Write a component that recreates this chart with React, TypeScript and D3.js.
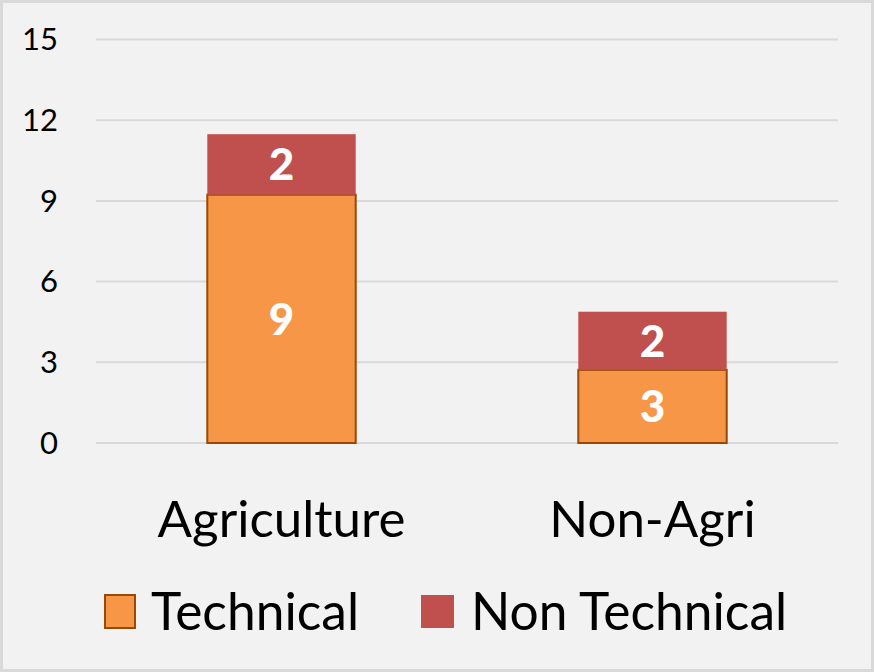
import React from "react";
import * as d3 from "d3";

const categories = ["Agriculture", "Non-Agri"];
const technical = [9.23, 2.72];
const nonTechnical = [2.25, 2.16];
const yTicks = [0, 3, 6, 9, 12, 15];
const seriesNames = ["Technical", "Non Technical"];

const W = 874;
const H = 672;
const FONT = "Lato, 'Open Sans', sans-serif";

export default function App() {
  const y = d3.scaleLinear().domain([0, 15]).range([443, 39.5]);
  const x = d3
    .scaleBand<string>()
    .domain(categories)
    .range([96, 838])
    .paddingInner(0.6)
    .paddingOuter(0.3);
  const bw = x.bandwidth();
  const fmt = d3.format(".0f");

  return (
    <svg
      width={W}
      height={H}
      style={{ position: "absolute", left: 0, top: 0 }}
      fontFamily={FONT}
    >
      <rect x={1.5} y={1.5} width={W - 3} height={H - 3} fill="#f2f2f2" stroke="#d9d9d9" strokeWidth={3} />
      {yTicks.map((t) => (
        <g key={t}>
          <line x1={96} x2={838} y1={y(t)} y2={y(t)} stroke="#d9d9d9" strokeWidth={2} />
          <text x={58} y={y(t)} dy="0.35em" textAnchor="end" fontSize={31} fill="#000">
            {t}
          </text>
        </g>
      ))}
      {categories.map((c, i) => {
        const x0 = x(c)!;
        const t = technical[i];
        const n = nonTechnical[i];
        return (
          <g key={c}>
            <rect
              x={x0}
              y={y(t)}
              width={bw}
              height={y(0) - y(t)}
              fill="#f79646"
              stroke="#984807"
              strokeWidth={2}
            />
            <rect x={x0} y={y(t + n)} width={bw} height={y(t) - y(t + n)} fill="#c0504d" />
            <text
              x={x0 + bw / 2}
              y={(y(0) + y(t)) / 2}
              dy="0.36em"
              textAnchor="middle"
              fontSize={44}
              fontWeight="900"
              fill="#fff"
            >
              {fmt(t)}
            </text>
            <text
              x={x0 + bw / 2}
              y={(y(t) + y(t + n)) / 2}
              dy="0.36em"
              textAnchor="middle"
              fontSize={44}
              fontWeight="900"
              fill="#fff"
            >
              {fmt(n)}
            </text>
            <text x={x0 + bw / 2} y={537} textAnchor="middle" fontSize={51} fill="#000">
              {c}
            </text>
          </g>
        );
      })}
      <g>
        <rect x={105} y={595} width={30} height={33} fill="#f79646" stroke="#984807" strokeWidth={2} />
        <text x={151} y={630} fontSize={51.5} fill="#000">
          {seriesNames[0]}
        </text>
        <rect x={421} y={595} width={33} height={33} fill="#c0504d" />
        <text x={471} y={630} fontSize={51.5} fill="#000">
          {seriesNames[1]}
        </text>
      </g>
    </svg>
  );
}
